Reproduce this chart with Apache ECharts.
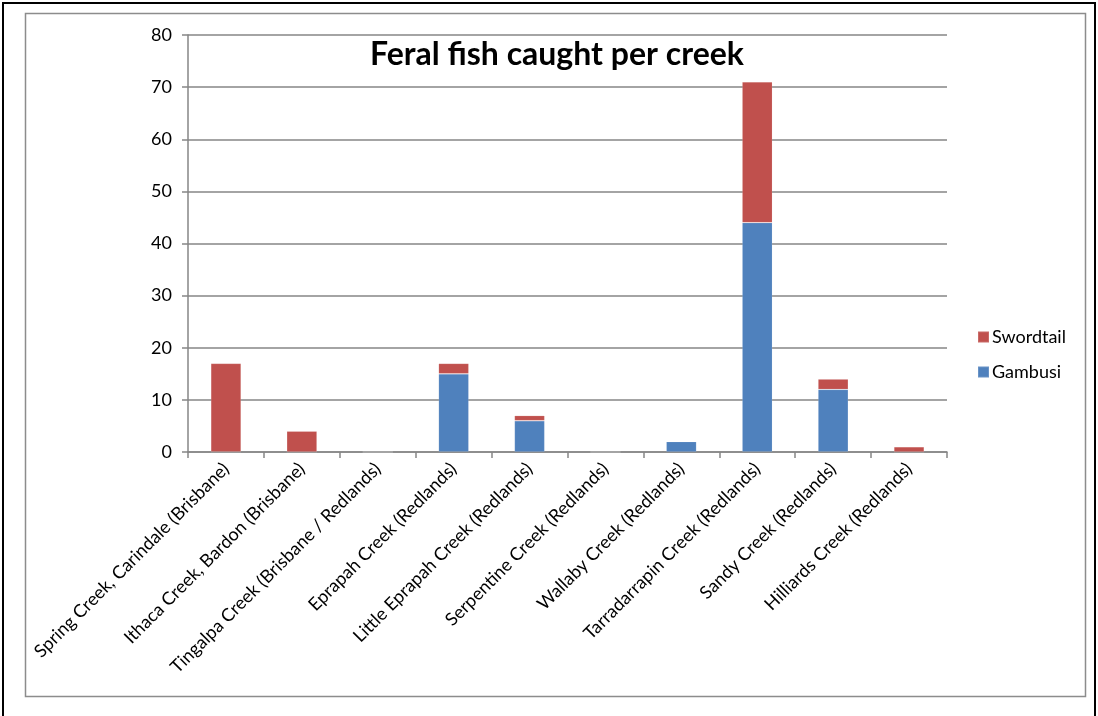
<!DOCTYPE html>
<html>
<head>
<meta charset="utf-8">
<script src="https://cdn.jsdelivr.net/npm/echarts@6/dist/echarts.min.js"></script>
<style>
  html, body { margin: 0; padding: 0; background: #fff; }
  #chart { width: 1098px; height: 716px; }
</style>
</head>
<body>
<div id="chart"></div>
<script>
// Creeks surveyed and counts of feral fish caught at each
const creeks = [
  'Spring Creek, Carindale (Brisbane)',
  'Ithaca Creek, Bardon (Brisbane)',
  'Tingalpa Creek (Brisbane / Redlands)',
  'Eprapah Creek (Redlands)',
  'Little Eprapah Creek (Redlands)',
  'Serpentine Creek (Redlands)',
  'Wallaby Creek (Redlands)',
  'Tarradarrapin Creek (Redlands)',
  'Sandy Creek (Redlands)',
  'Hilliards Creek (Redlands)'
];
const gambusi   = [0, 0, 0, 15, 6, 0, 2, 44, 12, 0];
const swordtail = [17, 4, 0, 2, 1, 0, 0, 27, 2, 1];
const yTicks = [0, 10, 20, 30, 40, 50, 60, 70, 80];

const FONT = 'Lato, "Open Sans", sans-serif';
const chart = echarts.init(document.getElementById('chart'));

chart.setOption({
  animation: false,
  backgroundColor: '#fff',
  title: {
    text: 'Feral fish caught per creek',
    left: 552, top: 34, textAlign: 'center',
    textStyle: { fontFamily: FONT, fontWeight: 'bold', fontSize: 32, color: '#000' }
  },
  graphic: [
    { type: 'rect', shape: { x: 3, y: 3, width: 1092, height: 730 },
      style: { fill: 'none', stroke: '#000', lineWidth: 2 }, silent: true },
    { type: 'rect', shape: { x: 25.5, y: 13.5, width: 1060, height: 683 },
      style: { fill: 'none', stroke: '#8c8c8c', lineWidth: 1.5 }, silent: true }
  ],
  legend: {
    data: ['Swordtail', 'Gambusi'],
    orient: 'vertical',
    left: 977, top: 328, padding: 0,
    itemWidth: 11, itemHeight: 11, itemGap: 17,
    icon: 'rect',
    textStyle: { fontFamily: FONT, fontSize: 18, color: '#000', padding: [0, 0, 0, -2] }
  },
  grid: { left: 188, right: 151, top: 35, bottom: 264, containLabel: false },
  xAxis: {
    type: 'category',
    data: creeks,
    axisLine: { lineStyle: { color: '#868686', width: 1.5 } },
    axisTick: { show: true, alignWithLabel: false, length: 6, lineStyle: { color: '#868686', width: 1.5 } },
    axisLabel: {
      interval: 0, rotate: 45, margin: 14,
      fontFamily: FONT, fontSize: 18, color: '#000'
    }
  },
  yAxis: {
    type: 'value',
    min: yTicks[0], max: yTicks[yTicks.length - 1], interval: 10,
    axisLine: { show: true, lineStyle: { color: '#868686', width: 1.5 } },
    axisTick: { show: true, inside: false, length: 6, lineStyle: { color: '#868686', width: 1.5 } },
    splitLine: { lineStyle: { color: '#868686', width: 1.5 } },
    axisLabel: { margin: 16, fontFamily: FONT, fontSize: 18, color: '#000' }
  },
  series: [
    {
      name: 'Gambusi', type: 'bar', stack: 'fish', data: gambusi, barWidth: '40%',
      itemStyle: { color: '#4F81BD', borderColor: 'rgba(255,255,255,0.15)', borderWidth: 0.8 }
    },
    {
      name: 'Swordtail', type: 'bar', stack: 'fish', data: swordtail, barWidth: '40%',
      itemStyle: { color: '#C0504D', borderColor: 'rgba(255,255,255,0.15)', borderWidth: 0.8 }
    }
  ]
});
</script>
</body>
</html>
